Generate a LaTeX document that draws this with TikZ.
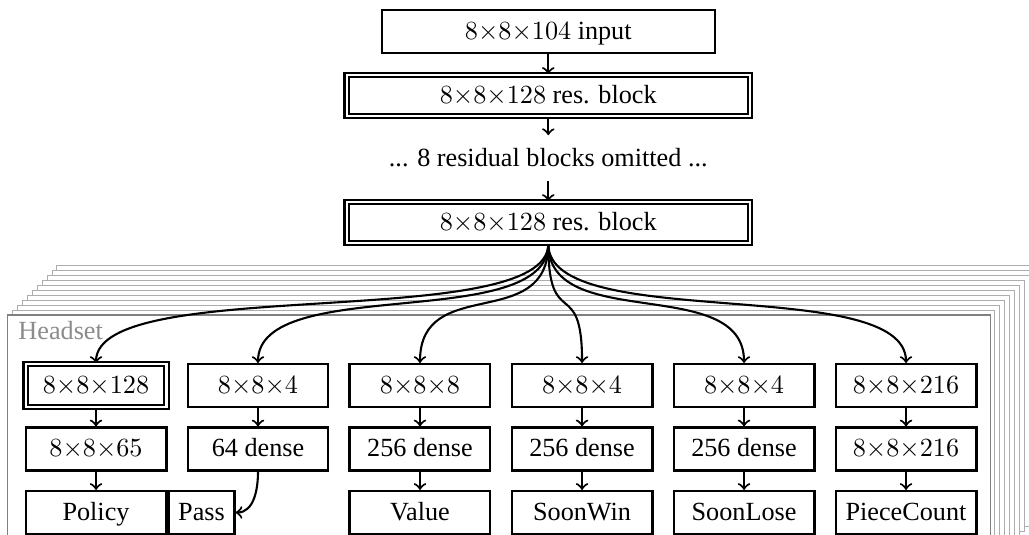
\documentclass[tikz,border=0pt]{standalone}
\usepackage{fontspec}
\setmainfont{Liberation Serif}

\begin{document}
\begin{tikzpicture}
    \tikzstyle{box} = [draw, thick, fill=white,
    minimum width=1.89cm, minimum height=0.577cm, inner sep=0pt,
    text height=1.55ex, text depth=0.25ex];
    \tikzstyle{dbox} = [box, double, double distance=0.8pt];
    \tikzstyle{arr} = [->, thick];
    \tikzstyle{fan} = [->, thick, out=-90, in=90,
    distance=1.2cm];
    \tikzstyle{layer} = [draw=black!32, fill=white];

    \useasboundingbox (0,0) rectangle (13.804,-7.177);

    % stacked headsets
    \foreach \i in {10,...,1}
        \draw[layer, shift={(\i*0.0657,\i*0.067)}]
            (0.107,-4.226) rectangle (13.281,-7.6);
    \draw[draw=black!50, fill=white] (0.107,-4.226) rectangle (13.281,-7.6);
    \node[anchor=base west, inner sep=0pt, text=black!45] (hs)
        at (0.241,-4.561) {Headset};

    \node[box, minimum width=4.467cm] (in) at (7.355,-0.423)
        {$8{\times}8{\times}104$ input};
    \node[dbox, minimum width=5.41cm, minimum height=0.55cm] (r1)
        at (7.355,-1.281) {$8{\times}8{\times}128$ res. block};
    \node[inner sep=5pt, anchor=base] (om) at (7.355,-2.240)
        {... 8 residual blocks omitted ...};
    \node[dbox, minimum width=5.41cm, minimum height=0.55cm] (r2)
        at (7.355,-2.985) {$8{\times}8{\times}128$ res. block};

    \node[dbox] (h1) at (1.288,-5.172){$8{\times}8{\times}128$};
    \node[box] (h2) at (3.461,-5.172){$8{\times}8{\times}4$};
    \node[box] (h3) at (5.634,-5.172){$8{\times}8{\times}8$};
    \node[box] (h4) at (7.808,-5.172){$8{\times}8{\times}4$};
    \node[box] (h5) at (9.981,-5.172){$8{\times}8{\times}4$};
    \node[box] (h6) at (12.154,-5.172){$8{\times}8{\times}216$};

    \node[box] (d1) at (1.288,-6.023){$8{\times}8{\times}65$};
    \node[box] (d2) at (3.461,-6.023){64 dense};
    \node[box] (d3) at (5.634,-6.023){256 dense};
    \node[box] (d4) at (7.808,-6.023){256 dense};
    \node[box] (d5) at (9.981,-6.023){256 dense};
    \node[box] (d6) at (12.154,-6.023){$8{\times}8{\times}216$};

    \node[box] (pol) at (1.288,-6.875){Policy};
    \node[box, minimum width=0.885cm, anchor=west] (pass)
        at (pol.east){Pass};
    \node[box] (val) at (5.634,-6.875){Value};
    \node[box] (win) at (7.808,-6.875){SoonWin};
    \node[box] (lose) at (9.981,-6.875){SoonLose};
    \node[box] (pc) at (12.154,-6.875){PieceCount};

    \path[arr] (in) edge (r1)
               (r1) edge (om)
               (om) edge (r2);

    \path[fan] (r2) edge (h1)
                    edge (h2)
                    edge (h3)
                    edge (h4)
                    edge (h5)
                    edge (h6);

    \path[arr] (h1) edge (d1)
               (d1) edge (pol)
               (h2) edge (d2)
               (h3) edge (d3)
               (d3) edge (val)
               (h4) edge (d4)
               (d4) edge (win)
               (h5) edge (d5)
               (d5) edge (lose)
               (h6) edge (d6)
               (d6) edge (pc);
    \path[arr] (d2) edge [out=-90, in=0] (pass);

\end{tikzpicture}
\end{document}
